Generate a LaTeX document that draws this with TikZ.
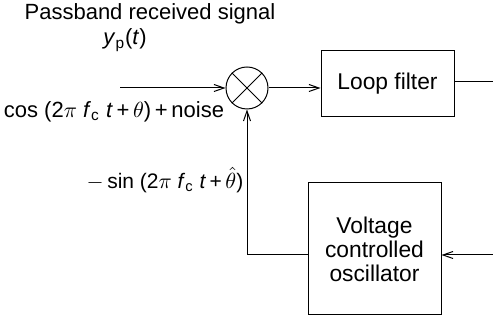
\documentclass[tikz,border=0pt]{standalone}
\usepackage{fontspec}
\setmainfont{Liberation Sans}
\usetikzlibrary{arrows.meta}
\begin{document}
\begin{tikzpicture}[x=0.5pt,y=-0.5pt,
  blk/.style={draw, line width=0.5pt, minimum width=66.5pt, inner sep=0pt, align=center, font=\fontsize{11.4}{12}\selectfont},
  lbl/.style={font=\fontsize{11}{13}\selectfont, inner sep=0pt},
  conn/.style={line width=0.5pt},
  arr/.style={conn, -{Straight Barb[length=5pt,width=3.5pt]}}]
\useasboundingbox (0,0) rectangle (493,325);
\node[draw, circle, line width=0.5pt, minimum size=21pt, inner sep=0pt] (mix) at (247,88) {};
\draw[line width=0.5pt] (mix.north west) -- (mix.south east) (mix.north east) -- (mix.south west);
\node[blk, minimum height=33pt] (lf) at (387.5,84) {Loop filter};
\node[blk, minimum height=66pt] (vco) at (374.5,249) {Voltage\\controlled\\oscillator};
\coordinate (in) at (120,88);
\coordinate (out) at (493,82);
\coordinate (vin) at (493,255);
\coordinate (corner) at (247,255);
\draw[arr] (in) -- (mix.west);
\draw[arr] (mix.east) -- (lf.west |- mix.east);
\draw[conn] (lf.east |- out) -- (out);
\draw[arr] (vin) -- (vco.east |- vin);
\draw[arr] (vco.west |- corner) -- (corner) -- (mix.south);
\node[lbl] (t1) at (150,14) {Passband received signal};
\node[lbl] (t2) at (125,40) {\textit{y}\textsubscript{p}(\textit{t})};
\node[lbl] (t3) at (114,112) {cos (2$\pi$ \textit{f}\textsubscript{c} \textit{t}\,+\,$\theta$)\,+\,noise};
\node[lbl, font=\fontsize{10.5}{12}\selectfont] (t4) at (165,180) {$-$\,sin (2$\pi$ \textit{f}\textsubscript{c} \textit{t}\,+\,$\hat{\theta}$)};
\end{tikzpicture}
\end{document}
